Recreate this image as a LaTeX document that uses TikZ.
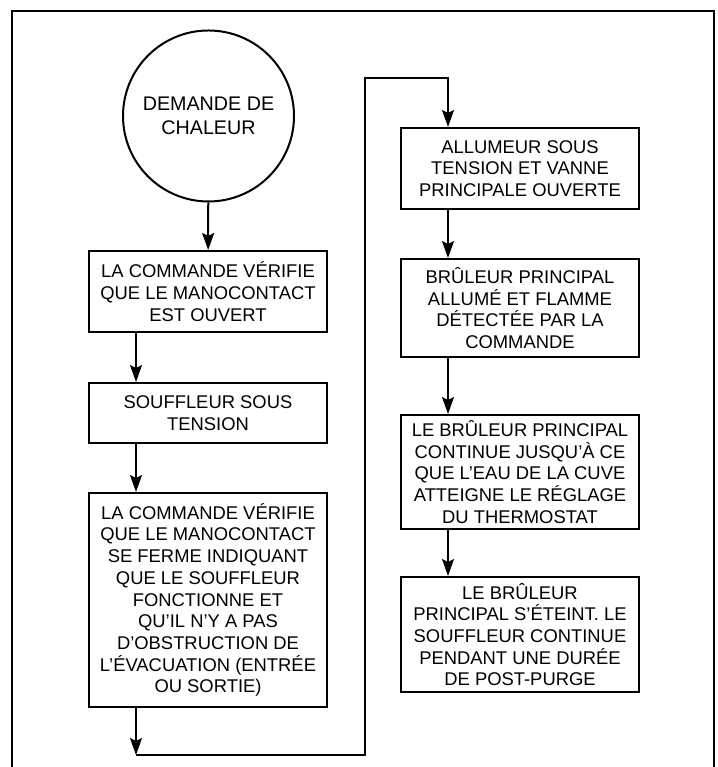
\documentclass[tikz,border=0pt]{standalone}
\usepackage{fontspec}
\setmainfont{Liberation Sans}
\usetikzlibrary{arrows.meta}

\begin{document}
\begin{tikzpicture}[x=1pt,y=1pt,line width=2pt,
  etape/.style={draw,align=center,minimum width=238pt,inner sep=2pt,
    font=\fontsize{18.4}{21.7}\selectfont},
  debut/.style={draw,circle,minimum size=171pt,inner sep=0pt,align=center,
    font=\fontsize{19.7}{24}\selectfont},
  fl/.style={-{Stealth[length=17pt,width=12pt,inset=3pt]}}]
  \useasboundingbox (0,0) rectangle (717,767);
  % cadre, ouvert en bas
  \draw (11.5,0) |- (714,756) -- (714,0);
  % colonne de gauche
  \node[debut] (dem) at (208.5,651) {DEMANDE DE\\CHALEUR};
  \node[etape,minimum height=81pt] (cmd1) at (208,475.5)
    {LA COMMANDE VÉRIFIE\\QUE LE MANOCONTACT\\EST OUVERT};
  \node[etape,minimum height=60pt] (souf) at (208,354) {SOUFFLEUR SOUS\\TENSION};
  \node[etape,minimum height=214pt] (cmd2) at (208,167)
    {LA COMMANDE VÉRIFIE\\QUE LE MANOCONTACT\\SE FERME INDIQUANT\\QUE LE SOUFFLEUR\\
     FONCTIONNE ET\\QU’IL N’Y A PAS\\D’OBSTRUCTION DE\\L’ÉVACUATION (ENTRÉE\\OU SORTIE)};
  % colonne de droite
  \node[etape,minimum height=81pt] (allum) at (520,598.5)
    {ALLUMEUR SOUS\\TENSION ET VANNE\\PRINCIPALE OUVERTE};
  \node[etape,minimum height=98pt] (brul) at (520,459)
    {BRÛLEUR PRINCIPAL\\ALLUMÉ ET FLAMME\\DÉTECTÉE PAR LA\\COMMANDE};
  \node[etape,minimum height=114pt] (cont) at (520,295)
    {LE BRÛLEUR PRINCIPAL\\CONTINUE JUSQU’À CE\\QUE L’EAU DE LA CUVE\\ATTEIGNE LE RÉGLAGE\\DU THERMOSTAT};
  \node[etape,minimum height=115pt] (fin) at (520,132.5)
    {LE BRÛLEUR\\PRINCIPAL S’ÉTEINT. LE\\SOUFFLEUR CONTINUE\\PENDANT UNE DURÉE\\DE POST-PURGE};
  % liaisons
  \coordinate (bas) at (136,12);
  \coordinate (remonte) at (365,689);
  \coordinate (haut) at (448,689);
  \draw[fl] (dem) -- (cmd1);
  \draw[fl] (cmd1.south -| bas) -- (souf.north -| bas);
  \draw[fl] (souf.south -| bas) -- (cmd2.north -| bas);
  \draw[fl] (cmd2.south -| bas) -- (bas);
  \draw[fl] (bas) -| (remonte) -- (haut) -- (allum.north -| haut);
  \draw[fl] (allum.south -| haut) -- (brul.north -| haut);
  \draw[fl] (brul.south -| haut) -- (cont.north -| haut);
  \draw[fl] (cont.south -| haut) -- (fin.north -| haut);
\end{tikzpicture}
\end{document}
